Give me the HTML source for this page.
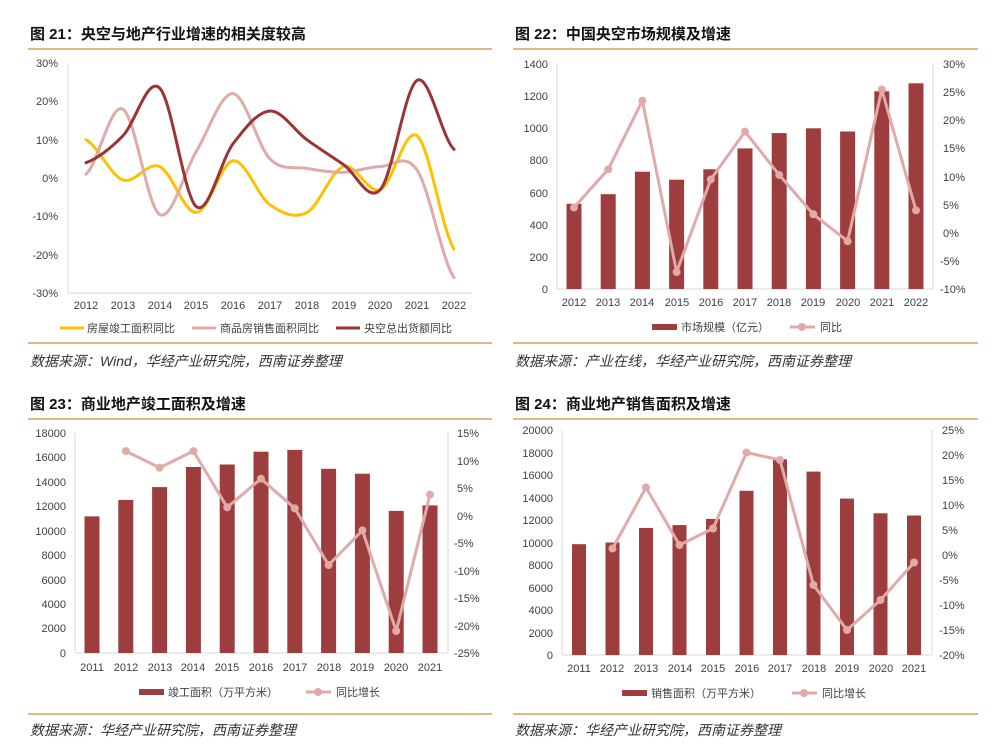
<!DOCTYPE html>
<html><head><meta charset="utf-8"><style>
body{margin:0;background:#fff}
svg{display:block}
text{font-family:"Liberation Sans","Noto Sans CJK SC",sans-serif;fill:#404040}
.t{font-size:15px;font-weight:bold;fill:#111}
.k{font-size:11px}
.s{font-size:14px;font-style:italic;fill:#333}
.g{font-size:11px}
</style></head><body>
<svg width="1000" height="746" viewBox="0 0 1000 746" xmlns="http://www.w3.org/2000/svg">
<!-- Chart 1 -->
<text class="t" x="30" y="39">图 21：央空与地产行业增速的相关度较高</text>
<line x1="28" y1="49" x2="492" y2="49" stroke="#d4a256" stroke-width="1.5"/>
<line x1="68" y1="63" x2="68" y2="293" stroke="#d9d9d9"/>
<line x1="68" y1="293" x2="472" y2="293" stroke="#d9d9d9"/>
<g class="k" text-anchor="end">
<text x="58" y="67">30%</text><text x="58" y="105">20%</text><text x="58" y="144">10%</text><text x="58" y="182">0%</text><text x="58" y="220">-10%</text><text x="58" y="259">-20%</text><text x="58" y="297">-30%</text></g>
<g class="k" text-anchor="middle">
<text x="86" y="309">2012</text><text x="123" y="309">2013</text><text x="160" y="309">2014</text><text x="196" y="309">2015</text><text x="233" y="309">2016</text><text x="270" y="309">2017</text><text x="307" y="309">2018</text><text x="344" y="309">2019</text><text x="380" y="309">2020</text><text x="417" y="309">2021</text><text x="454" y="309">2022</text></g>
<g fill="none" stroke-width="3" stroke-linejoin="round" stroke-linecap="round">
<path stroke="#ffc000" d="M86,139.7 C98.3,146.4 110.5,175.4 122.8,179.9 C135.1,184.4 147.3,161.1 159.6,166.5 C171.9,171.9 184.1,213.5 196.4,212.5 C208.7,211.6 220.9,162.1 233.2,160.8 C245.5,159.5 257.7,196.2 270,204.8 C282.3,213.4 294.5,218.9 306.8,212.5 C319.1,206.1 331.3,170.3 343.6,166.5 C355.9,162.7 368.1,194.6 380.4,189.5 C392.7,184.4 404.9,126 417.2,135.9 C429.5,145.8 441.7,230.1 454,248.9"/>
<path stroke="#e0aaa8" d="M86,174.2 C98.3,163.4 110.5,102.4 122.8,109.1 C135.1,115.8 147.3,207.4 159.6,214.4 C171.9,221.4 184.1,171.3 196.4,151.2 C208.7,131.1 220.9,92.4 233.2,93.7 C245.5,95 257.7,146.5 270,158.9 C282.3,171.3 294.5,166.2 306.8,168.4 C319.1,170.6 331.3,172.6 343.6,172.3 C355.9,172 368.1,166.8 380.4,166.5 C392.7,166.2 404.9,151.8 417.2,170.3 C429.5,188.8 441.7,259.7 454,277.6"/>
<path stroke="#9b3535" d="M86,162.7 C98.3,158.2 110.5,148.4 122.8,135.9 C135.1,123.5 147.3,76.2 159.6,88 C171.9,99.8 184.1,197.5 196.4,206.7 C208.7,216 220.9,159.5 233.2,143.5 C245.5,127.6 257.7,111.6 270,111 C282.3,110.4 294.5,130.8 306.8,139.7 C319.1,148.6 331.3,156.3 343.6,164.6 C355.9,172.9 368.1,203.6 380.4,189.5 C392.7,175.5 404.9,87 417.2,80.3 C429.5,73.6 441.7,137.8 454,149.3"/>
</g>
<line x1="60" y1="328" x2="84" y2="328" stroke="#ffc000" stroke-width="3"/><text class="g" x="87" y="332">房屋竣工面积同比</text>
<line x1="192" y1="328" x2="216" y2="328" stroke="#e0aaa8" stroke-width="3"/><text class="g" x="220" y="332">商品房销售面积同比</text>
<line x1="336" y1="328" x2="360" y2="328" stroke="#9b3535" stroke-width="3"/><text class="g" x="364" y="332">央空总出货额同比</text>
<line x1="28" y1="343" x2="492" y2="343" stroke="#d4a256" stroke-width="1.5"/>
<text class="s" x="30" y="366">数据来源：Wind，华经产业研究院，西南证券整理</text>

<!-- Chart 2 -->
<text class="t" x="515" y="39">图 22：中国央空市场规模及增速</text>
<line x1="513" y1="49" x2="978" y2="49" stroke="#d4a256" stroke-width="1.5"/>
<line x1="557" y1="64" x2="557" y2="289" stroke="#d9d9d9"/>
<line x1="933" y1="64" x2="933" y2="289" stroke="#d9d9d9"/>
<line x1="557" y1="289" x2="933" y2="289" stroke="#d9d9d9"/>
<g class="k" text-anchor="end">
<text x="548" y="68">1400</text><text x="548" y="100">1200</text><text x="548" y="132">1000</text><text x="548" y="164">800</text><text x="548" y="197">600</text><text x="548" y="229">400</text><text x="548" y="261">200</text><text x="548" y="293">0</text></g>
<g class="k">
<text x="943" y="68">30%</text><text x="943" y="96">25%</text><text x="943" y="124">20%</text><text x="943" y="152">15%</text><text x="943" y="181">10%</text><text x="943" y="209">5%</text><text x="943" y="237">0%</text><text x="940" y="265">-5%</text><text x="940" y="293">-10%</text></g>
<g fill="#9e3d3d">
<rect x="566.5" y="203.8" width="15" height="85.2"/><rect x="600.7" y="194.2" width="15" height="94.8"/><rect x="634.9" y="171.7" width="15" height="117.3"/><rect x="669.1" y="179.7" width="15" height="109.3"/><rect x="703.3" y="169.3" width="15" height="119.7"/><rect x="737.5" y="148.4" width="15" height="140.6"/><rect x="771.7" y="133.1" width="15" height="155.9"/><rect x="805.9" y="128.3" width="15" height="160.7"/><rect x="840.1" y="131.5" width="15" height="157.5"/><rect x="874.3" y="91.3" width="15" height="197.7"/><rect x="908.5" y="83.3" width="15" height="205.7"/></g>
<polyline fill="none" stroke="#e0aaa8" stroke-width="3" stroke-linejoin="round" points="574,207.5 608.2,169.3 642.4,100.7 676.6,272.1 710.8,179.4 745,131.6 779.2,174.9 813.4,214.3 847.6,241.2 881.8,89.5 916,210.3"/>
<g fill="#e0aaa8"><circle cx="574" cy="207.5" r="4"/><circle cx="608.2" cy="169.3" r="4"/><circle cx="642.4" cy="100.7" r="4"/><circle cx="676.6" cy="272.1" r="4"/><circle cx="710.8" cy="179.4" r="4"/><circle cx="745" cy="131.6" r="4"/><circle cx="779.2" cy="174.9" r="4"/><circle cx="813.4" cy="214.3" r="4"/><circle cx="847.6" cy="241.2" r="4"/><circle cx="881.8" cy="89.5" r="4"/><circle cx="916" cy="210.3" r="4"/></g>
<g class="k" text-anchor="middle">
<text x="574" y="306">2012</text><text x="608" y="306">2013</text><text x="642" y="306">2014</text><text x="677" y="306">2015</text><text x="711" y="306">2016</text><text x="745" y="306">2017</text><text x="779" y="306">2018</text><text x="813" y="306">2019</text><text x="848" y="306">2020</text><text x="882" y="306">2021</text><text x="916" y="306">2022</text></g>
<rect x="652" y="324" width="25" height="6" fill="#9e3d3d"/><text class="g" x="681" y="331">市场规模（亿元）</text>
<line x1="790" y1="327" x2="815" y2="327" stroke="#e0aaa8" stroke-width="3"/><circle cx="802" cy="327" r="4" fill="#e0aaa8"/><text class="g" x="820" y="331">同比</text>
<line x1="513" y1="343" x2="978" y2="343" stroke="#d4a256" stroke-width="1.5"/>
<text class="s" x="515" y="366">数据来源：产业在线，华经产业研究院，西南证券整理</text>

<!-- Chart 3 -->
<text class="t" x="30" y="409">图 23：商业地产竣工面积及增速</text>
<line x1="28" y1="419" x2="492" y2="419" stroke="#d4a256" stroke-width="1.5"/>
<line x1="75" y1="433" x2="75" y2="653" stroke="#d9d9d9"/>
<line x1="448" y1="433" x2="448" y2="653" stroke="#d9d9d9"/>
<line x1="75" y1="653" x2="448" y2="653" stroke="#d9d9d9"/>
<g class="k" text-anchor="end">
<text x="66" y="437">18000</text><text x="66" y="461">16000</text><text x="66" y="486">14000</text><text x="66" y="510">12000</text><text x="66" y="535">10000</text><text x="66" y="559">8000</text><text x="66" y="584">6000</text><text x="66" y="608">4000</text><text x="66" y="632">2000</text><text x="66" y="657">0</text></g>
<g class="k">
<text x="457" y="437">15%</text><text x="457" y="465">10%</text><text x="457" y="492">5%</text><text x="457" y="520">0%</text><text x="454" y="547">-5%</text><text x="454" y="575">-10%</text><text x="454" y="602">-15%</text><text x="454" y="630">-20%</text><text x="454" y="657">-25%</text></g>
<g fill="#9e3d3d">
<rect x="84.5" y="516.4" width="15" height="136.6"/><rect x="118.3" y="499.9" width="15" height="153.1"/><rect x="152.1" y="487.1" width="15" height="165.9"/><rect x="185.9" y="467" width="15" height="186"/><rect x="219.7" y="464.5" width="15" height="188.5"/><rect x="253.5" y="451.7" width="15" height="201.3"/><rect x="287.3" y="449.9" width="15" height="203.1"/><rect x="321.1" y="468.8" width="15" height="184.2"/><rect x="354.9" y="473.7" width="15" height="179.3"/><rect x="388.7" y="510.9" width="15" height="142.1"/><rect x="422.5" y="505.4" width="15" height="147.6"/></g>
<polyline fill="none" stroke="#e0aaa8" stroke-width="3" stroke-linejoin="round" points="125.8,451.1 159.6,467.7 193.4,451.1 227.2,507.3 261,478.7 294.8,508.4 328.6,565 362.4,530.4 396.2,631 430,494.6"/>
<g fill="#e0aaa8"><circle cx="125.8" cy="451.1" r="4"/><circle cx="159.6" cy="467.7" r="4"/><circle cx="193.4" cy="451.1" r="4"/><circle cx="227.2" cy="507.3" r="4"/><circle cx="261" cy="478.7" r="4"/><circle cx="294.8" cy="508.4" r="4"/><circle cx="328.6" cy="565" r="4"/><circle cx="362.4" cy="530.4" r="4"/><circle cx="396.2" cy="631" r="4"/><circle cx="430" cy="494.6" r="4"/></g>
<g class="k" text-anchor="middle">
<text x="92" y="671">2011</text><text x="126" y="671">2012</text><text x="160" y="671">2013</text><text x="193" y="671">2014</text><text x="227" y="671">2015</text><text x="261" y="671">2016</text><text x="295" y="671">2017</text><text x="329" y="671">2018</text><text x="362" y="671">2019</text><text x="396" y="671">2020</text><text x="430" y="671">2021</text></g>
<rect x="139" y="689" width="25" height="6" fill="#9e3d3d"/><text class="g" x="168" y="696">竣工面积（万平方米）</text>
<line x1="306" y1="692" x2="331" y2="692" stroke="#e0aaa8" stroke-width="3"/><circle cx="318" cy="692" r="4" fill="#e0aaa8"/><text class="g" x="336" y="696">同比增长</text>
<line x1="28" y1="714" x2="492" y2="714" stroke="#d4a256" stroke-width="1.5"/>
<text class="s" x="30" y="735">数据来源：华经产业研究院，西南证券整理</text>

<!-- Chart 4 -->
<text class="t" x="515" y="409">图 24：商业地产销售面积及增速</text>
<line x1="513" y1="419" x2="978" y2="419" stroke="#d4a256" stroke-width="1.5"/>
<line x1="562" y1="430" x2="562" y2="655" stroke="#d9d9d9"/>
<line x1="932" y1="430" x2="932" y2="655" stroke="#d9d9d9"/>
<line x1="562" y1="655" x2="932" y2="655" stroke="#d9d9d9"/>
<g class="k" text-anchor="end">
<text x="553" y="434">20000</text><text x="553" y="457">18000</text><text x="553" y="479">16000</text><text x="553" y="502">14000</text><text x="553" y="524">12000</text><text x="553" y="547">10000</text><text x="553" y="569">8000</text><text x="553" y="592">6000</text><text x="553" y="614">4000</text><text x="553" y="637">2000</text><text x="553" y="659">0</text></g>
<g class="k">
<text x="942" y="434">25%</text><text x="942" y="459">20%</text><text x="942" y="484">15%</text><text x="942" y="509">10%</text><text x="942" y="534">5%</text><text x="942" y="559">0%</text><text x="939" y="584">-5%</text><text x="939" y="609">-10%</text><text x="939" y="634">-15%</text><text x="939" y="659">-20%</text></g>
<g fill="#9e3d3d">
<rect x="572" y="544.2" width="14" height="110.8"/><rect x="605.5" y="542.5" width="14" height="112.5"/><rect x="639" y="527.9" width="14" height="127.1"/><rect x="672.5" y="525.1" width="14" height="129.9"/><rect x="706" y="518.9" width="14" height="136.1"/><rect x="739.5" y="490.8" width="14" height="164.2"/><rect x="773" y="459.3" width="14" height="195.7"/><rect x="806.5" y="471.6" width="14" height="183.4"/><rect x="840" y="498.6" width="14" height="156.4"/><rect x="873.5" y="513.3" width="14" height="141.7"/><rect x="907" y="515.5" width="14" height="139.5"/></g>
<polyline fill="none" stroke="#e0aaa8" stroke-width="3" stroke-linejoin="round" points="612.5,548.5 646,487.5 679.5,545 713,528.5 746.5,452.5 780,460 813.5,585 847,630 880.5,600 914,562.5"/>
<g fill="#e0aaa8"><circle cx="612.5" cy="548.5" r="4"/><circle cx="646" cy="487.5" r="4"/><circle cx="679.5" cy="545" r="4"/><circle cx="713" cy="528.5" r="4"/><circle cx="746.5" cy="452.5" r="4"/><circle cx="780" cy="460" r="4"/><circle cx="813.5" cy="585" r="4"/><circle cx="847" cy="630" r="4"/><circle cx="880.5" cy="600" r="4"/><circle cx="914" cy="562.5" r="4"/></g>
<g class="k" text-anchor="middle">
<text x="579" y="672">2011</text><text x="612" y="672">2012</text><text x="646" y="672">2013</text><text x="680" y="672">2014</text><text x="713" y="672">2015</text><text x="747" y="672">2016</text><text x="780" y="672">2017</text><text x="814" y="672">2018</text><text x="847" y="672">2019</text><text x="881" y="672">2020</text><text x="914" y="672">2021</text></g>
<rect x="622" y="690" width="25" height="6" fill="#9e3d3d"/><text class="g" x="651" y="697">销售面积（万平方米）</text>
<line x1="792" y1="693" x2="817" y2="693" stroke="#e0aaa8" stroke-width="3"/><circle cx="804" cy="693" r="4" fill="#e0aaa8"/><text class="g" x="822" y="697">同比增长</text>
<line x1="513" y1="714" x2="978" y2="714" stroke="#d4a256" stroke-width="1.5"/>
<text class="s" x="515" y="735">数据来源：华经产业研究院，西南证券整理</text>
</svg>
</body></html>
